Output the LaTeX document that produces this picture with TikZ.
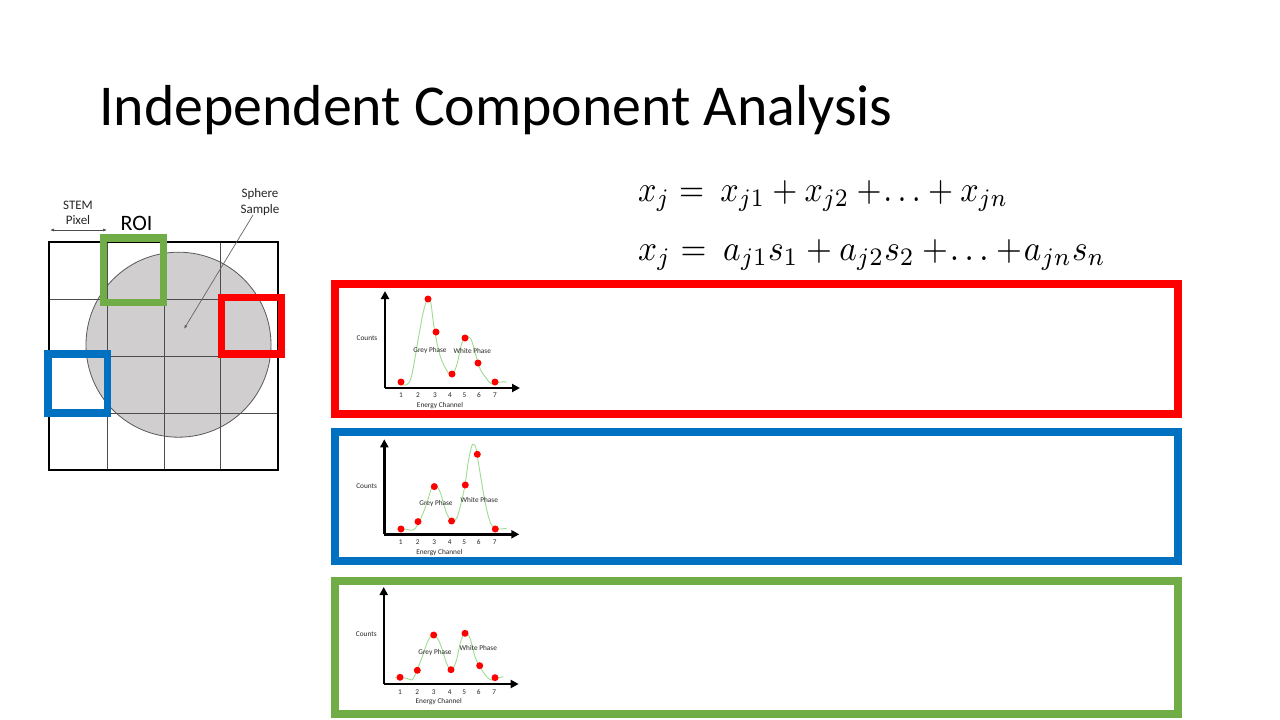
\documentclass[tikz,border=0pt]{standalone}
\usepackage{graphicx}
\usepackage{fontspec}
\setmainfont{Carlito}
\usetikzlibrary{arrows.meta}
\definecolor{pptred}{HTML}{FF0000}
\definecolor{pptblue}{HTML}{0070C0}
\definecolor{pptgreen}{HTML}{70AD47}
\definecolor{curvegreen}{HTML}{9FDC8F}
\definecolor{spheregrey}{HTML}{D0CECE}
\tikzset{
  panel/.style={line width=8pt},
  roibox/.style={line width=7.5pt},
  axis/.style={line width=2.4pt, -{Triangle[length=8pt,width=8pt]}},
  spec/.style={curvegreen, line width=0.9pt},
  dot/.style={circle, fill=pptred, inner sep=0pt, minimum size=7pt},
  small/.style={font=\fontsize{7.3}{8}\selectfont, inner sep=0pt, text=black!85},
  gridline/.style={black!70, line width=0.8pt},
}
\begin{document}
\begin{tikzpicture}[x=1pt,y=-1pt]
\useasboundingbox[fill=white] (0,0) rectangle (1280,720);

% title
\node[anchor=base west, inner sep=0pt, font=\fontsize{57.8}{60}\selectfont] (title) at (99,125) {Independent Component Analysis};

% equations
\node[anchor=base west, inner sep=0pt] (eqa) at (638,201) {\scalebox{3.22}[3.6]{$x_j =\ x_{j1} + x_{j2} +\!\ldots + x_{jn}$}};
\node[anchor=base west, inner sep=0pt] (eqb) at (638,260) {\scalebox{3.33}[3.6]{$x_j =\ a_{j1}s_1 + a_{j2}s_2 +\!\ldots +\!a_{jn}s_n$}};

% grid with sphere
\fill[spheregrey] (178.5,344.7) circle (92.5);
\draw[black!65, line width=0.8pt] (178.5,344.7) circle (92.5);
\foreach \g in {107,164,220} \draw[gridline] (\g,242) -- (\g,470);
\foreach \g in {299,356,413} \draw[gridline] (49,\g) -- (278,\g);
\draw[line width=2.2pt] (49,242) rectangle (278,470);

% ROI boxes
\draw[pptgreen, roibox] (103.3,238) rectangle (163.7,302.7);
\draw[pptred, roibox] (221.5,297.5) rectangle (281.5,354);
\draw[pptblue, roibox] (48,354) rectangle (107.7,413);

% labels
\node[font=\fontsize{22}{24}\selectfont, anchor=base, inner sep=0pt] (roi) at (136.5,230.5) {ROI};
\node[font=\fontsize{13}{15.5}\selectfont, align=center, inner sep=0pt, text=black!85] (stem) at (78,213) {STEM\\Pixel};
\coordinate (pa) at (50,230);
\coordinate (pb) at (107,230);
\draw[black!70, line width=0.6pt, {Latex[length=4pt,width=3pt]}-{Latex[length=4pt,width=3pt]}] (pa) -- (pb);
\node[font=\fontsize{13}{15.5}\selectfont, align=center, inner sep=0pt, text=black!85] (sphere) at (260,202) {Sphere\\Sample};
\coordinate (sp) at (184,329);
\draw[black!60, line width=0.7pt, -{Latex[length=4pt,width=3pt]}] (253,215) -- (sp);

% panels
\draw[pptred, panel] (335,284) rectangle (1178,414);
\draw[pptblue, panel] (335,432) rectangle (1178,561);
\draw[pptgreen, panel] (335,581) rectangle (1178,714);

% ---- red spectrum
\begin{scope}[shift={(385,388)}]
\draw[spec] plot[smooth, tension=0.6] coordinates {(13.3,-4.3) (21.7,-3.3) (26.7,-12.7) (33.3,-49.3) (38.3,-76) (42.7,-89.3) (45.7,-86) (49.3,-59.3) (55,-32.7) (61.7,-17.7) (66.7,-13.3) (71.7,-22.7) (76.7,-44.3) (81,-51) (85.7,-49.3) (90,-36) (95,-19.3) (101.7,-9.3) (106.7,-4) (115,-6) (121.7,-6)};
\draw[axis] (0,0) -- (0,-97);
\draw[axis] (0,0) -- (135,0);
\foreach \p in {(16,-6),(43,-89),(51,-56),(67,-14),(80,-50),(93,-25),(110,-6)} \node[dot] at \p {};
\foreach \x/\l in {16/1,33/2,50/3,65/4,79.5/5,94/6,110/7} \node[small] at (\x,7.5) {\l};
\node[small] (rE) at (55,17.5) {Energy Channel};
\node[small] (rC) at (-18,-50) {Counts};
\node[small] (rG) at (45,-37.4) {Grey Phase};
\node[small] (rW) at (87.3,-37.4) {White Phase};
\end{scope}

% ---- blue spectrum
\begin{scope}[shift={(384.3,534.3)}]
\draw[spec] plot[smooth, tension=0.6] coordinates {(12.3,-5.3) (22.3,-5) (29,-4.3) (34,-11) (40.7,-26) (47.3,-46) (50.7,-49.3) (55.7,-42.7) (61.7,-22.7) (67.3,-13.3) (72.3,-16) (76.3,-29.3) (80.7,-49.3) (84,-72.7) (87.3,-87.7) (89,-90) (91.7,-86) (95,-66) (100.7,-32.7) (105.7,-12.7) (110.7,-6) (115.7,-5.3) (122.3,-6)};
\draw[axis] (0,0) -- (0,-95);
\draw[axis] (0,0) -- (135,0);
\foreach \p in {(16.7,-5.3),(33.7,-12.7),(50,-47.7),(67.3,-13.3),(81,-49.3),(93,-80),(111,-5.3)} \node[dot] at \p {};
\foreach \x/\l in {16.5/1,33.5/2,50/3,65.5/4,80/5,94.5/6,110.5/7} \node[small] at (\x,8) {\l};
\node[small] (bE) at (55,18) {Energy Channel};
\node[small] (bC) at (-17.7,-48.6) {Counts};
\node[small] (bG) at (51.7,-30.6) {Grey Phase};
\node[small] (bW) at (95,-34.6) {White Phase};
\end{scope}

% ---- green spectrum
\begin{scope}[shift={(383.7,684)}]
\draw[spec] plot[smooth, tension=0.6] coordinates {(11.3,-6.3) (23,-5.7) (28,-4) (31.3,-9) (38,-25.7) (44.7,-44) (50.3,-49) (56.3,-40.7) (62.3,-22.3) (67.3,-14) (72.3,-22.3) (77,-42.3) (81.3,-51.3) (86.3,-45.7) (91.3,-27.3) (96.3,-17.3) (103,-7.3) (108,-4) (113,-5.7) (119.7,-7.3)};
\draw[axis] (0,0) -- (0,-97);
\draw[axis] (0,0) -- (135,0);
\foreach \p in {(16.3,-6.7),(33.6,-13.7),(50,-49),(67.3,-14.3),(81.3,-50.7),(96,-18.3),(111.3,-6.3)} \node[dot] at \p {};
\foreach \x/\l in {16.3/1,33.6/2,50/3,66/4,80.5/5,95/6,110.5/7} \node[small] at (\x,8.3) {\l};
\node[small] (gE) at (55,17.7) {Energy Channel};
\node[small] (gC) at (-17.4,-49.7) {Counts};
\node[small] (gG) at (51.3,-31.3) {Grey Phase};
\node[small] (gW) at (94.6,-36.3) {White Phase};
\end{scope}
\end{tikzpicture}
\end{document}
